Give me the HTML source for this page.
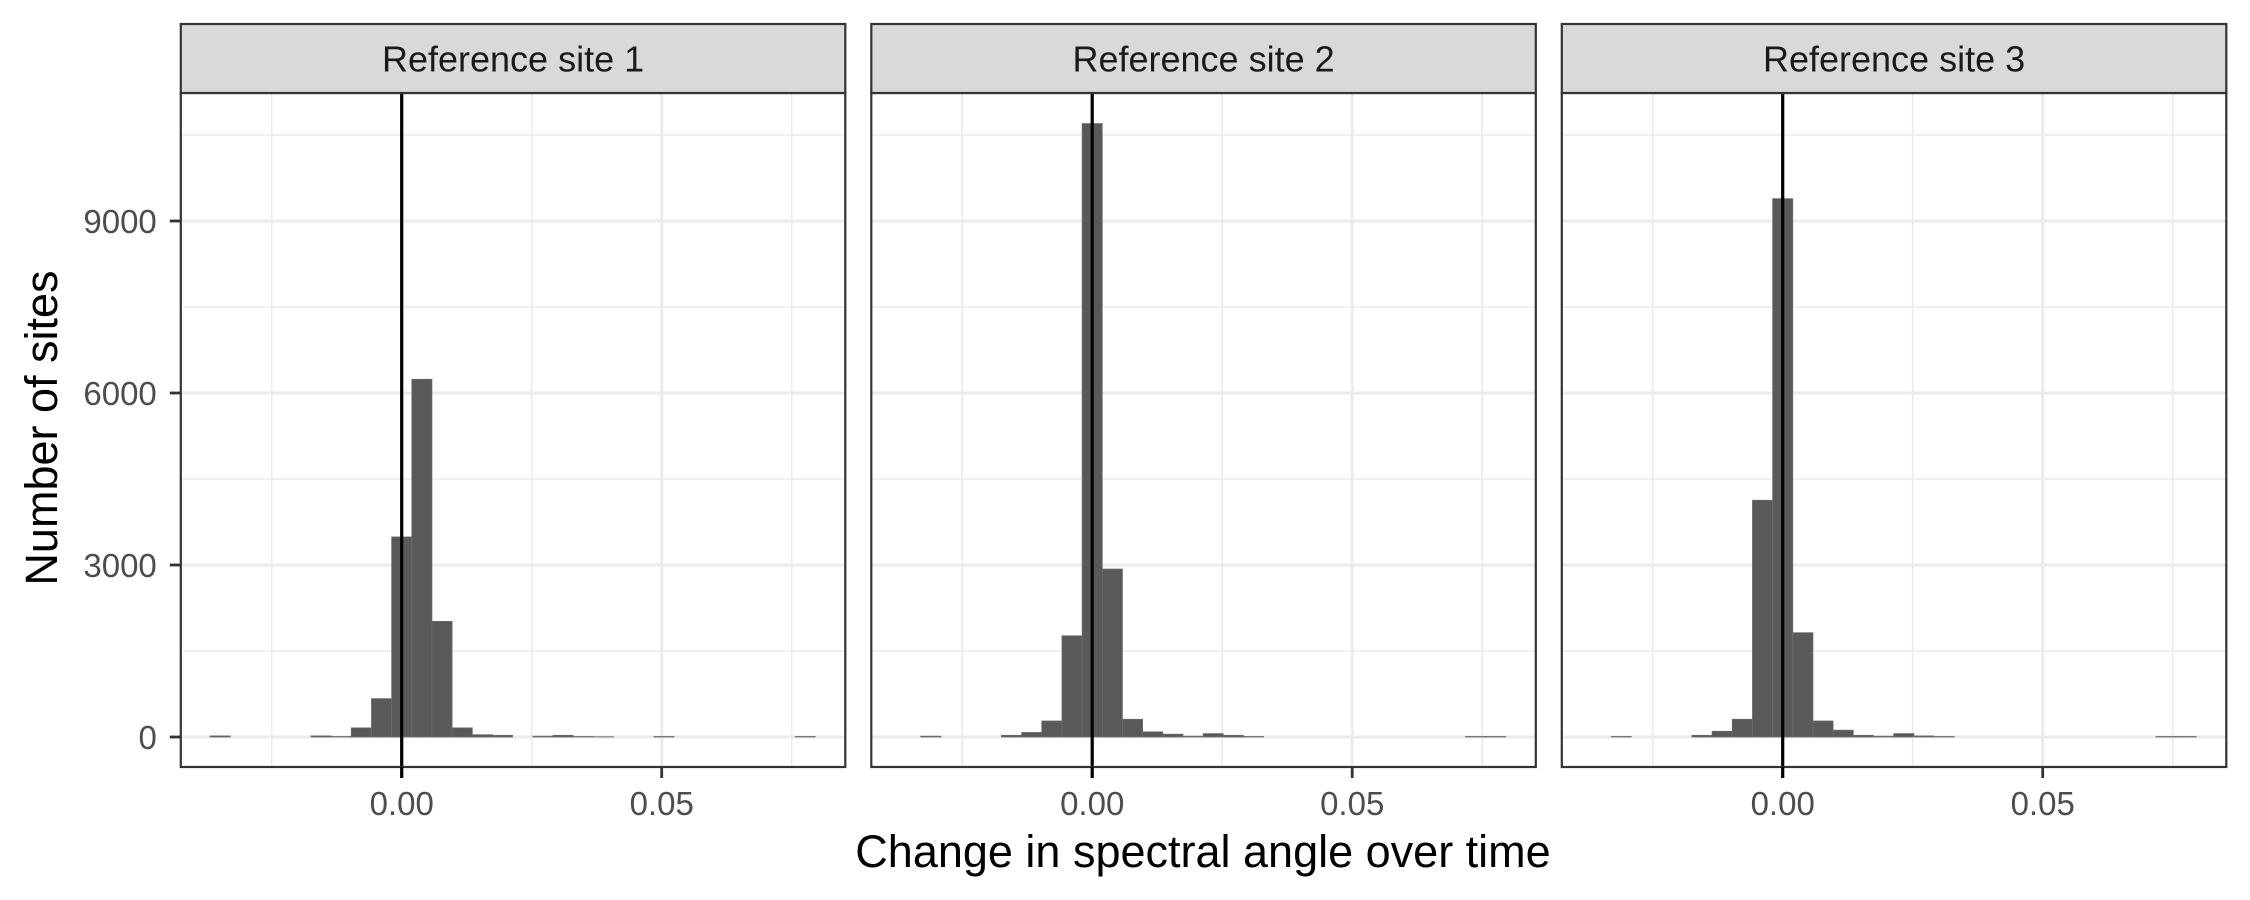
<!DOCTYPE html>
<html><head><meta charset="utf-8">
<style>
html,body{margin:0;padding:0;background:#fff;}
svg{display:block;font-family:"Liberation Sans",Arial,sans-serif;}
</style></head>
<body>
<svg id="chart" width="2250" height="900" viewBox="0 0 2250 900" xmlns="http://www.w3.org/2000/svg">
<text x="0" y="0" transform="translate(57,428) rotate(-90)" text-anchor="middle" font-size="45" fill="#000">Number of sites</text>
<text x="1203" y="867" text-anchor="middle" font-size="45" fill="#000">Change in spectral angle over time</text>
</svg>
<script>
const panelNames = ["Reference site 1", "Reference site 2", "Reference site 3"];
const binWidth = 0.00388;
const binIndex = [-9,-8,-7,-6,-5,-4,-3,-2,-1,0,1,2,3,4,5,6,7,8,9,10,11,12,13,14,15,16,17,18,19,20];
const countsSite1 = [20,0,0,0,0,20,10,160,670,3490,6240,2017,160,40,30,0,15,30,10,5,0,0,10,0,0,0,0,0,0,10];
const countsSite2 = [0,15,0,0,0,30,80,280,1766,10700,2930,310,90,50,15,60,30,10,0,0,0,0,0,0,0,0,0,0,10,10];
const countsSite3 = [0,10,0,0,0,30,100,310,4130,9390,1820,280,120,30,15,60,20,10,0,0,0,0,0,0,0,0,0,0,10,10];
const yTicks = [0,3000,6000,9000];
const yTickLabels = ["0","3000","6000","9000"];
const xTicks = [0,0.05];
const xTickLabels = ["0.00","0.05"];
const xMinor = [-0.025,0.025,0.075];
const yMinor = [1500,4500,7500,10500];
const allCounts = [countsSite1, countsSite2, countsSite3];

const NS = "http://www.w3.org/2000/svg";
const svg = document.getElementById("chart");
const panelLeft0 = 180.8, panelW = 664.5, panelGap = 690.5;
const panelTop = 93, panelBottom = 767, stripTop = 24;
const zeroY = 737, pxPerCount = 172/3000;
const pxPerUnit = 5200, zeroXOffset = 220.9;
function mk(tag, attrs){const e=document.createElementNS(NS,tag);for(const k in attrs)e.setAttribute(k,attrs[k]);return e;}
function yScale(v){return zeroY - v*pxPerCount;}

for(let p=0;p<3;p++){
  const L = panelLeft0 + p*panelGap, R = L+panelW;
  const xScale = v => L + zeroXOffset + v*pxPerUnit;
  const g = mk("g",{});
  
  
  svg.appendChild(g);
  const bg = mk("rect",{x:L,y:panelTop,width:panelW,height:panelBottom-panelTop,fill:"#fff"});
  
  
  g.appendChild(bg);
  yMinor.forEach(v=>{const l=mk("line",{x1:L,x2:R,y1:yScale(v),y2:yScale(v),stroke:"#ebebeb","stroke-width":1.6});
    
    
    g.appendChild(l);});
  xMinor.forEach(v=>{const l=mk("line",{x1:xScale(v),x2:xScale(v),y1:panelTop,y2:panelBottom,stroke:"#ebebeb","stroke-width":1.6});
    
    
    g.appendChild(l);});
  yTicks.forEach(v=>{const l=mk("line",{x1:L,x2:R,y1:yScale(v),y2:yScale(v),stroke:"#ebebeb","stroke-width":3});
    
    
    g.appendChild(l);});
  xTicks.forEach(v=>{const l=mk("line",{x1:xScale(v),x2:xScale(v),y1:panelTop,y2:panelBottom,stroke:"#ebebeb","stroke-width":3});
    
    
    g.appendChild(l);});
  const counts = allCounts[p];
  binIndex.forEach((k,i)=>{
    const c = counts[i]; if(!c) return;
    const x0 = xScale((k-0.5)*binWidth), x1 = xScale((k+0.5)*binWidth);
    const r = mk("rect",{x:x0,y:yScale(c),width:x1-x0,height:zeroY-yScale(c),fill:"#595959",stroke:"#6e6e6e","stroke-width":0.7});
    
    
    g.appendChild(r);
  });
  const vl = mk("line",{x1:xScale(0),x2:xScale(0),y1:panelTop,y2:panelBottom,stroke:"#000","stroke-width":3.2});
  
  
  g.appendChild(vl);
  const border = mk("rect",{x:L,y:panelTop,width:panelW,height:panelBottom-panelTop,fill:"none",stroke:"#333","stroke-width":2.2});
  
  
  g.appendChild(border);
  const strip = mk("rect",{x:L,y:stripTop,width:panelW,height:panelTop-stripTop,fill:"#d9d9d9",stroke:"#333","stroke-width":2.2});
  
  
  g.appendChild(strip);
  const st = mk("text",{x:L+panelW/2,y:(stripTop+panelTop)/2+13,"text-anchor":"middle","font-size":"36","fill":"#1a1a1a"});
  st.textContent = panelNames[p];
  
  
  g.appendChild(st);
  xTicks.forEach((v,i)=>{
    const t = mk("line",{x1:xScale(v),x2:xScale(v),y1:panelBottom,y2:panelBottom+11,stroke:v===0?"#000":"#333","stroke-width":v===0?3.2:2.8});
    
    
    g.appendChild(t);
    const tl = mk("text",{x:xScale(v),y:815,"text-anchor":"middle","font-size":"33","fill":"#4d4d4d"});
    tl.textContent = xTickLabels[i];
    
    
    g.appendChild(tl);
  });
  if(p===0){
    yTicks.forEach((v,i)=>{
      const t = mk("line",{x1:L-11,x2:L,y1:yScale(v),y2:yScale(v),stroke:"#333","stroke-width":2.8});
      
      
      g.appendChild(t);
      const tl = mk("text",{x:L-24,y:yScale(v)+12,"text-anchor":"end","font-size":"33","fill":"#4d4d4d"});
      tl.textContent = yTickLabels[i];
      
      
      g.appendChild(tl);
    });
  }
}
</script>
</body></html>
